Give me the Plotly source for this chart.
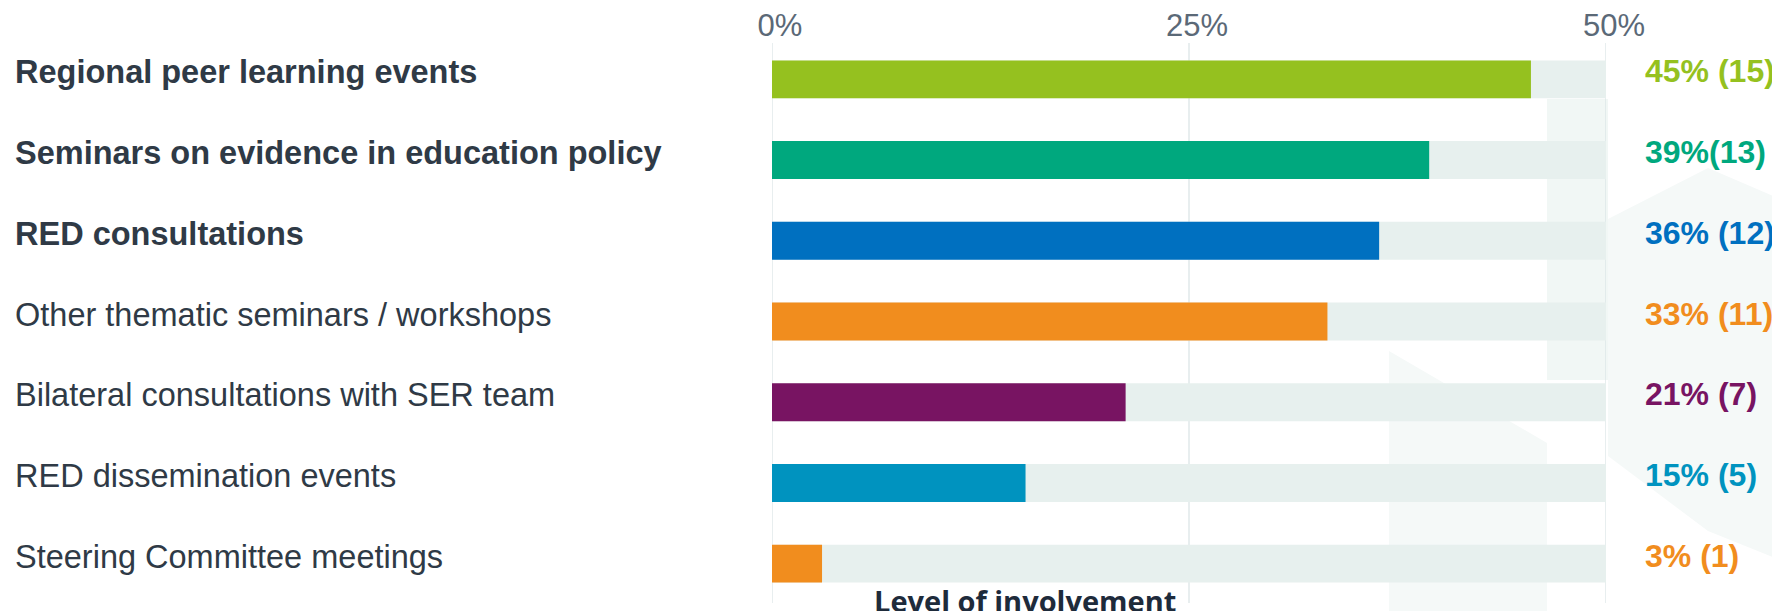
import plotly.graph_objects as go

# ---- data ----
categories = [
    "Regional peer learning events",
    "Seminars on evidence in education policy",
    "RED consultations",
    "Other thematic seminars / workshops",
    "Bilateral consultations with SER team",
    "RED dissemination events",
    "Steering Committee meetings",
]
bold_flags = [True, True, True, False, False, False, False]
percent_values = [45.5, 39.4, 36.4, 33.3, 21.2, 15.2, 3.0]
value_labels = ["45% (15)", "39%(13)", "36% (12)", "33% (11)", "21% (7)", "15% (5)", "3% (1)"]
track_max = [50, 50, 50, 50, 50, 50, 50]
tick_values = [0, 25, 50]
tick_labels = ["0%", "25%", "50%"]
axis_title = "Level of involvement"

bar_colors = ["#95c11f", "#00a87e", "#0070c0", "#f18d1e", "#781462", "#0093bf", "#f18d1e"]
track_color = "#e7f0ee"
label_color = "#2f3a46"
tick_color = "#5b6977"
grid_color = "#d9e3e5"
FONT = "Liberation Sans, Arial, sans-serif"

# page body has an 8px default margin; compensate so the picture lines up
OFF = 8
W, H = 1780 - OFF, 611 - OFF
# plot area in screen pixels (reference coordinates)
PX0, PX1 = 772, 1606
PY0, PY1 = 39, 604
ML = PX0 - OFF
MR = W - (PX1 - OFF)
MT = PY0 - OFF
MB = H - (PY1 - OFF)
plot_w = PX1 - PX0
plot_h = PY1 - PY0


def px_x(x):
    return (x - PX0) / plot_w


def px_y(y):
    return (PY1 - y) / plot_h


fig = go.Figure()

# faint decorative background shapes
polys = [
    ([(1547, 99), (1608, 99), (1608, 380), (1547, 380)], "#f1f7f5"),
    ([(1608, 219), (1708, 168), (1780, 199), (1780, 560), (1708, 531), (1608, 456)], "#f5f9f8"),
    ([(1389, 351), (1547, 443), (1547, 611), (1389, 611)], "#f5f9f8"),
]
shapes = []
for poly, col in polys:
    path = "M " + " L ".join(f"{px_x(x):.4f} {px_y(y):.4f}" for x, y in poly) + " Z"
    shapes.append(dict(type="path", path=path, xref="paper", yref="paper",
                       fillcolor=col, line=dict(width=0), layer="below"))

# vertical grid lines at the tick values
for tv in tick_values:
    shapes.append(dict(type="line", x0=tv, x1=tv, xref="x", y0=px_y(43), y1=px_y(603),
                       yref="paper", line=dict(color=grid_color, width=1.2), layer="below"))

fig.add_trace(go.Bar(
    y=categories, x=track_max, orientation="h",
    marker=dict(color=track_color, line=dict(width=0)),
    width=0.47, hoverinfo="skip", showlegend=False,
))
fig.add_trace(go.Bar(
    y=categories, x=percent_values, orientation="h",
    marker=dict(color=bar_colors, line=dict(width=0)),
    width=0.47, showlegend=False,
))

annotations = []
for cat, b, lab, col in zip(categories, bold_flags, value_labels, bar_colors):
    txt = f"<b>{cat}</b>" if b else cat
    annotations.append(dict(
        x=px_x(13), xref="paper", y=cat, yref="y",
        text=txt, showarrow=False, xanchor="left", yanchor="middle",
        font=dict(family=FONT, size=32.5, color=label_color), yshift=7,
    ))
    annotations.append(dict(
        x=px_x(1643), xref="paper", y=cat, yref="y",
        text=f"<b>{lab}</b>", showarrow=False, xanchor="left", yanchor="middle",
        font=dict(family=FONT, size=32, color=col), yshift=8,
    ))

annotations.append(dict(
    x=px_x(1025), xref="paper", y=px_y(600), yref="paper",
    text=f"<b>{axis_title}</b>", showarrow=False, xanchor="center", yanchor="middle",
    font=dict(family="Open Sans, sans-serif", size=29, color="#1e2b3b"),
))

fig.update_layout(
    width=W, height=H,
    margin=dict(l=ML, r=MR, t=MT, b=MB, pad=0, autoexpand=False),
    paper_bgcolor="white", plot_bgcolor="rgba(0,0,0,0)",
    barmode="overlay",
    showlegend=False,
    shapes=shapes,
    annotations=annotations,
    xaxis=dict(
        range=[0, 50], side="top", tickvals=tick_values, ticktext=tick_labels,
        showgrid=False, zeroline=False, automargin=False,
        showline=False, ticks="", tickfont=dict(family=FONT, size=31, color=tick_color),
        ticklabelshift=8, ticklabelstandoff=-4, fixedrange=True,
    ),
    yaxis=dict(
        categoryorder="array", categoryarray=categories, autorange="reversed",
        showticklabels=False, showgrid=False, zeroline=False, showline=False, ticks="",
        automargin=False,
    ),
)

fig.write_html("out.html")
